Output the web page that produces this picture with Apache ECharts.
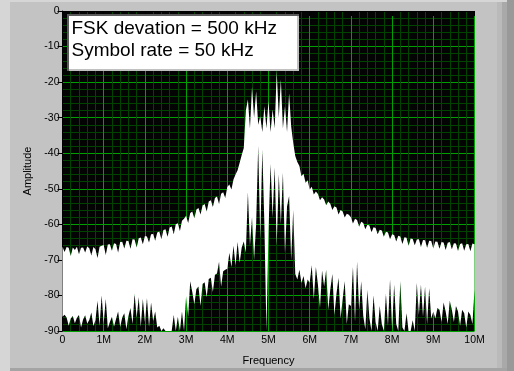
<!DOCTYPE html>
<html><head><meta charset="utf-8">
<script src="https://cdn.jsdelivr.net/npm/echarts@6/dist/echarts.min.js"></script>
<style>html,body{margin:0;padding:0;background:#c3c3c3}#c{width:514px;height:371px}</style>
</head><body><div id="c"></div>
<script>
// x tick labels (MHz)
const xTickLabels = ['0','1M','2M','3M','4M','5M','6M','7M','8M','9M','10M'];
const yTickLabels = ['-90','-80','-70','-60','-50','-40','-30','-20','-10','0'];
const infoLines = ['FSK devation = 500 kHz', 'Symbol rate = 50 kHz'];
const freqStep = 0.05; // MHz between samples
// upper envelope (max of spectrum per column), dB, 0..10 MHz
const upper = [
-66.3,-67.8,-66.4,-66.6,-68.9,-66.5,-67.2,-66.3,-68.4,-66.6,-66.5,-67.9,-66.2,-66.7,-68.8,-66.4,-67.0,-69.5,-66.3,-66.0,
-65.8,-68.6,-65.7,-65.6,-67.4,-65.3,-65.5,-67.9,-65.0,-64.9,-66.8,-64.6,-64.7,-66.9,-64.2,-64.3,-66.5,-63.9,-63.7,-65.6,
-63.3,-63.4,-65.1,-62.8,-62.7,-64.6,-62.3,-62.0,-64.2,-61.6,-61.4,-63.5,-60.9,-60.6,-62.8,-60.0,-59.7,-61.9,-59.0,-58.4,
-57.6,-59.6,-56.8,-56.4,-58.3,-55.8,-55.4,-57.2,-54.7,-54.3,-56.4,-53.6,-53.2,-55.1,-52.6,-52.2,-54.3,-51.4,-51.0,-52.6,
-49.5,-48.8,-50.2,-47.4,-46.0,-44.8,-42.7,-40.5,-38.5,-28.0,-24.9,-33.0,-21.4,-30.0,-22.6,-32.0,-29.6,-34.0,-26.8,-33.0,
-25.4,-34.0,-27.7,-33.0,-17.0,-30.0,-19.3,-33.0,-26.8,-34.0,-23.1,-32.4,-37.1,-40.8,-42.5,-43.6,-46.5,-45.8,-48.3,-47.6,
-50.2,-49.4,-51.6,-50.8,-51.5,-53.2,-52.4,-53.0,-54.6,-53.6,-54.2,-56.0,-54.9,-55.3,-57.2,-56.0,-56.4,-58.1,-57.0,-57.3,
-58.0,-59.8,-58.4,-58.8,-60.7,-59.3,-59.6,-61.4,-60.1,-60.3,-62.2,-60.8,-61.0,-62.8,-61.5,-61.7,-63.5,-62.1,-62.3,-64.2,
-62.8,-63.0,-64.8,-63.2,-63.4,-65.5,-63.6,-63.8,-66.0,-64.0,-64.1,-65.9,-64.3,-64.2,-66.4,-64.4,-64.5,-66.6,-64.6,-64.7,
-66.8,-64.8,-64.9,-66.9,-65.0,-65.1,-67.2,-65.2,-65.0,-67.0,-65.3,-65.4,-67.5,-65.5,-65.3,-67.4,-65.6,-65.5,-67.6,-65.4,
-65.6];
// lower envelope (min of spectrum per column), dB
const lower = [
-86.0,-85.4,-86.2,-88.5,-86.5,-85.8,-87.8,-86.3,-85.5,-89.0,-86.8,-85.6,-87.9,-86.9,-84.8,-88.6,-87.0,-81.5,-88.5,-80.0,
-87.8,-81.0,-89.2,-87.5,-86.0,-88.8,-86.6,-84.5,-88.9,-86.2,-85.0,-89.5,-85.8,-83.5,-88.0,-79.5,-86.3,-80.5,-88.8,-81.0,
-87.5,-80.8,-88.9,-82.0,-87.2,-84.5,-89.0,-88.5,-90.0,-89.2,-90.0,-90.0,-90.0,-90.0,-85.5,-90.0,-86.0,-90.0,-84.5,-90.0,
-80.2,-86.0,-76.0,-79.0,-82.5,-78.2,-77.5,-83.0,-76.8,-76.3,-80.5,-75.4,-75.0,-79.0,-74.2,-73.8,-70.5,-77.5,-73.2,-72.8,
-72.5,-68.0,-72.0,-66.0,-71.5,-65.0,-70.8,-66.5,-64.8,-68.0,-51.0,-66.0,-58.0,-70.0,-60.0,-38.0,-64.0,-39.0,-60.0,-90.0,
-62.0,-43.0,-58.0,-44.0,-66.0,-46.0,-60.0,-45.5,-68.0,-55.0,-52.0,-70.0,-56.0,-74.0,-75.5,-72.8,-76.5,-74.5,-78.0,-75.5,
-76.4,-71.5,-81.0,-72.0,-77.0,-83.5,-73.0,-77.5,-72.8,-84.0,-78.3,-74.0,-85.5,-79.5,-75.0,-86.5,-81.0,-76.0,-88.0,-82.5,
-83.0,-72.0,-87.5,-70.5,-84.0,-76.0,-85.8,-89.5,-78.5,-86.5,-90.0,-80.0,-87.5,-90.0,-83.0,-88.0,-90.0,-79.5,-88.5,-75.5,
-89.5,-77.0,-88.0,-90.0,-76.0,-89.0,-90.0,-85.0,-90.0,-90.0,-87.0,-90.0,-76.5,-85.5,-77.0,-86.0,-77.5,-88.0,-78.0,-86.5,
-84.5,-86.5,-83.5,-84.0,-87.5,-82.0,-84.5,-88.0,-81.5,-84.0,-87.5,-83.0,-84.5,-88.5,-84.0,-85.0,-89.0,-84.5,-85.5,-88.0,
-78.5];
const freq = upper.map((_, i) => +(i * freqStep).toFixed(2));

const chart = echarts.init(document.getElementById('c'), null, {renderer: 'canvas'});
const FONT = 'Liberation Sans';
const option = {
  animation: false,
  backgroundColor: '#c3c3c3',
  grid: {left: 62.5, top: 11, width: 412, height: 321, show: true, backgroundColor: '#040404', borderWidth: 0},
  xAxis: {
    type: 'value', min: 0, max: 10, interval: 1,
    name: 'Frequency', nameLocation: 'middle', nameGap: 24,
    nameTextStyle: {color: '#000', fontFamily: FONT, fontSize: 11},
    axisLine: {show: true, lineStyle: {color: '#000', width: 1}},
    axisTick: {show: true, length: 5, lineStyle: {color: '#000'}},
    axisLabel: {color: '#000', fontFamily: FONT, fontSize: 10.5, margin: 4,
      formatter: (v) => xTickLabels[Math.round(v)]},
    splitLine: {show: true, lineStyle: {color: '#00a000', width: 1}},
    minorTick: {show: false, splitNumber: 5},
    minorSplitLine: {show: true, lineStyle: {color: '#004400', width: 1}}
  },
  yAxis: {
    type: 'value', min: -90, max: 0, interval: 10,
    name: 'Amplitude', nameLocation: 'middle', nameGap: 28, nameRotate: 90,
    nameTextStyle: {color: '#000', fontFamily: FONT, fontSize: 11},
    axisLine: {show: true, lineStyle: {color: '#000', width: 1}},
    axisTick: {show: true, length: 5, lineStyle: {color: '#000'}},
    axisLabel: {color: '#000', fontFamily: FONT, fontSize: 10.5, margin: 3,
      formatter: (v) => yTickLabels[Math.round((v + 90) / 10)]},
    splitLine: {show: true, lineStyle: {color: '#00a000', width: 1}},
    minorTick: {show: false, splitNumber: 5},
    minorSplitLine: {show: true, lineStyle: {color: '#004400', width: 1}}
  },
  series: [{
    type: 'custom',
    data: freq.map((f, i) => [f, lower[i], upper[i]]),
    renderItem: function (params, api) {
      if (params.dataIndex !== 0) return null;
      const pts = [];
      for (let i = 0; i < freq.length; i++) pts.push(api.coord([freq[i], upper[i]]));
      for (let i = freq.length - 1; i >= 0; i--) pts.push(api.coord([freq[i], lower[i]]));
      return {type: 'polygon', shape: {points: pts}, style: {fill: '#ffffff', stroke: null}};
    },
    silent: true
  }],
  graphic: [
    // panel frame decoration
    {type: 'rect', z: 100, shape: {x: 0, y: 0, width: 10, height: 371}, style: {fill: '#d6d6d6'}, silent: true},
    {type: 'rect', z: 100, shape: {x: 0, y: 0, width: 514, height: 2}, style: {fill: '#d6d6d6'}, silent: true},
    {type: 'rect', z: 100, shape: {x: 497, y: 2, width: 5, height: 369}, style: {fill: '#bababa'}, silent: true},
    {type: 'rect', z: 100, shape: {x: 502, y: 2, width: 5, height: 369}, style: {fill: '#a9a9a9'}, silent: true},
    {type: 'rect', z: 100, shape: {x: 507, y: 0, width: 7, height: 371}, style: {fill: '#999999'}, silent: true},
    {type: 'rect', z: 100, shape: {x: 10, y: 368, width: 497, height: 3}, style: {fill: '#a4a4a4'}, silent: true},
    // annotation box
    {type: 'rect', z: 100, silent: true, shape: {x: 67, y: 14, width: 232, height: 57}, style: {fill: '#ffffff'}},
    {type: 'rect', z: 101, silent: true, shape: {x: 67, y: 14, width: 232, height: 2}, style: {fill: '#5a5a5a'}},
    {type: 'rect', z: 101, silent: true, shape: {x: 67, y: 14, width: 2, height: 57}, style: {fill: '#5a5a5a'}},
    {type: 'rect', z: 101, silent: true, shape: {x: 297, y: 16, width: 2, height: 55}, style: {fill: '#c0c0c0'}},
    {type: 'rect', z: 101, silent: true, shape: {x: 69, y: 69, width: 230, height: 2}, style: {fill: '#c0c0c0'}},
    {type: 'text', z: 102, silent: true, x: 71.5, y: 18, style: {text: infoLines.join('\n'), fill: '#000', fontFamily: FONT, fontSize: 19, lineHeight: 22, verticalAlign: 'top'}}
  ]
};
chart.setOption(option);
</script>
</body></html>
